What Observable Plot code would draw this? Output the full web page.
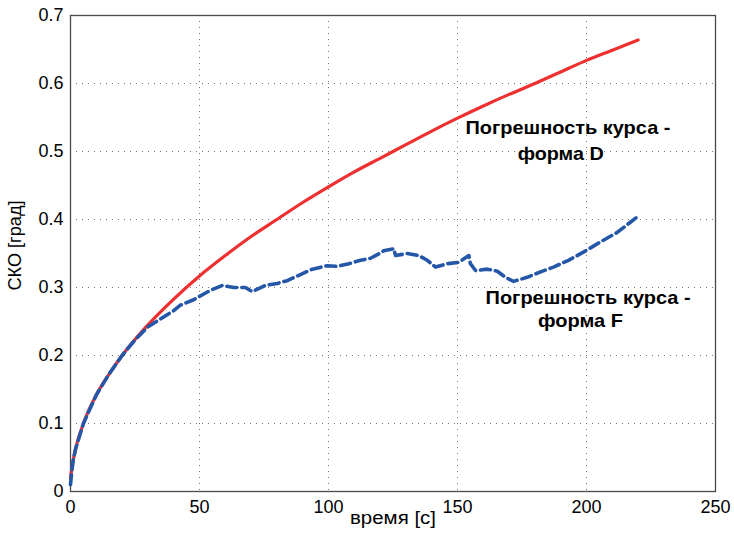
<!DOCTYPE html>
<html><head><meta charset="utf-8">
<script src="https://cdn.jsdelivr.net/npm/d3@7"></script>
<script src="https://cdn.jsdelivr.net/npm/@observablehq/plot@0.6"></script>
<style>
body{margin:0;background:#fff;}
#chart svg{display:block;}
</style>
</head><body><div id="chart"></div>
<script>
const tRed = [0,0.5,1,2,5,10,15,20,30,40,50,60,70,80,90,100,110,120,130,140,150,160,170,180,190,200,210,220];
const vRed = [0.02,0.033,0.045,0.063,0.10,0.142,0.173,0.20,0.245,0.283,0.317,0.347,0.375,0.40,0.425,0.448,0.47,0.49,0.51,0.53,0.549,0.567,0.584,0.60,0.617,0.634,0.649,0.664];
const tBlue = [0,0.5,1,2,5,10,15,20,25,30,35,40,42.6,47.7,54.3,58.8,63.3,67.8,70.4,75.6,80.1,84,88.5,93.7,99.5,103.4,107.9,112.4,116.3,119.8,121.4,125.3,126,130.5,135,138.3,141.5,146,150.5,154.4,155,157,161.5,165.4,168.6,171.7,177,182.2,187.2,193,198.8,205.4,211.9,217,219.4];
const vBlue = [0.01,0.03,0.045,0.063,0.10,0.142,0.173,0.20,0.223,0.242,0.254,0.266,0.274,0.282,0.296,0.303,0.300,0.300,0.294,0.303,0.306,0.310,0.318,0.327,0.332,0.331,0.335,0.340,0.343,0.350,0.354,0.357,0.347,0.350,0.347,0.340,0.330,0.335,0.337,0.347,0.335,0.325,0.327,0.324,0.315,0.309,0.315,0.323,0.330,0.340,0.352,0.367,0.381,0.396,0.403];
const xTicks = [0,50,100,150,200,250];
const yTicks = [0,0.1,0.2,0.3,0.4,0.5,0.6,0.7];
const noteText = ["Погрешность курса -", "форма D", "Погрешность курса -", "форма F"];
const noteT = [192.8, 190, 200.6, 197.7];
const noteV = [0.534, 0.497, 0.285, 0.251];
const noteWidth = [205, 86, 205, 85];
const xLabel = "время [с]";
const yLabel = "СКО [град]";

const red = tRed.map((t,i)=>({t, v:vRed[i]}));
const blue = tBlue.map((t,i)=>({t, v:vBlue[i]}));
const notes = noteText.map((s,i)=>({s, t:noteT[i], v:noteV[i], w:noteWidth[i]}));

const chart = Plot.plot({
  width: 734, height: 544,
  marginLeft: 70, marginRight: 19, marginTop: 15, marginBottom: 53,
  style: {fontFamily: "Liberation Sans, Arial, sans-serif", fontSize: "18px", color: "#000", background: "#fff"},
  x: {domain: [0,250], ticks: xTicks, tickSize: 0, tickPadding: 9, label: null},
  y: {domain: [0,0.7], ticks: yTicks, tickSize: 0, tickPadding: 7, label: null,
      tickFormat: d => String(+d.toFixed(1))},
  marks: [
    Plot.ruleX(xTicks, {stroke: "#777", strokeDasharray: "1,5", strokeWidth: 1}),
    Plot.ruleY(yTicks, {stroke: "#777", strokeDasharray: "1,5", strokeWidth: 1}),
    Plot.frame({stroke: "#4a4a4a", strokeWidth: 1.3}),
    Plot.line(red, {x: "t", y: "v", stroke: "#ee3030", strokeWidth: 3.2, curve: "monotone-x"}),
    Plot.line(blue, {x: "t", y: "v", stroke: "#2557a8", strokeWidth: 3.6, strokeDasharray: "10,5", curve: "linear"}),
    Plot.text(notes, {x: "t", y: "v", text: "s", fontWeight: "bold", fontSize: 19,
      fontFamily: "Liberation Sans, Arial, sans-serif", fill: "#000", className: "note"}),
    Plot.text([xLabel], {frameAnchor: "bottom", textAnchor: "middle", dy: 32, fontSize: 17.5, fill: "#000", className: "xlab"}),
    Plot.text([yLabel], {frameAnchor: "left", textAnchor: "middle", rotate: -90, dx: -55, dy: -8, fontSize: 17.5, fill: "#000", className: "ylab"})
  ]
});
d3.select(chart).selectAll("g.note text").each(function(d, i) {
  this.setAttribute("textLength", notes[i].w);
  this.setAttribute("lengthAdjust", "spacingAndGlyphs");
});
d3.select(chart).selectAll("g.xlab text").attr("textLength", 86).attr("lengthAdjust", "spacingAndGlyphs");
d3.select(chart).selectAll("g.ylab text").attr("textLength", 90).attr("lengthAdjust", "spacingAndGlyphs");
document.getElementById("chart").appendChild(chart);
</script>
</body></html>
